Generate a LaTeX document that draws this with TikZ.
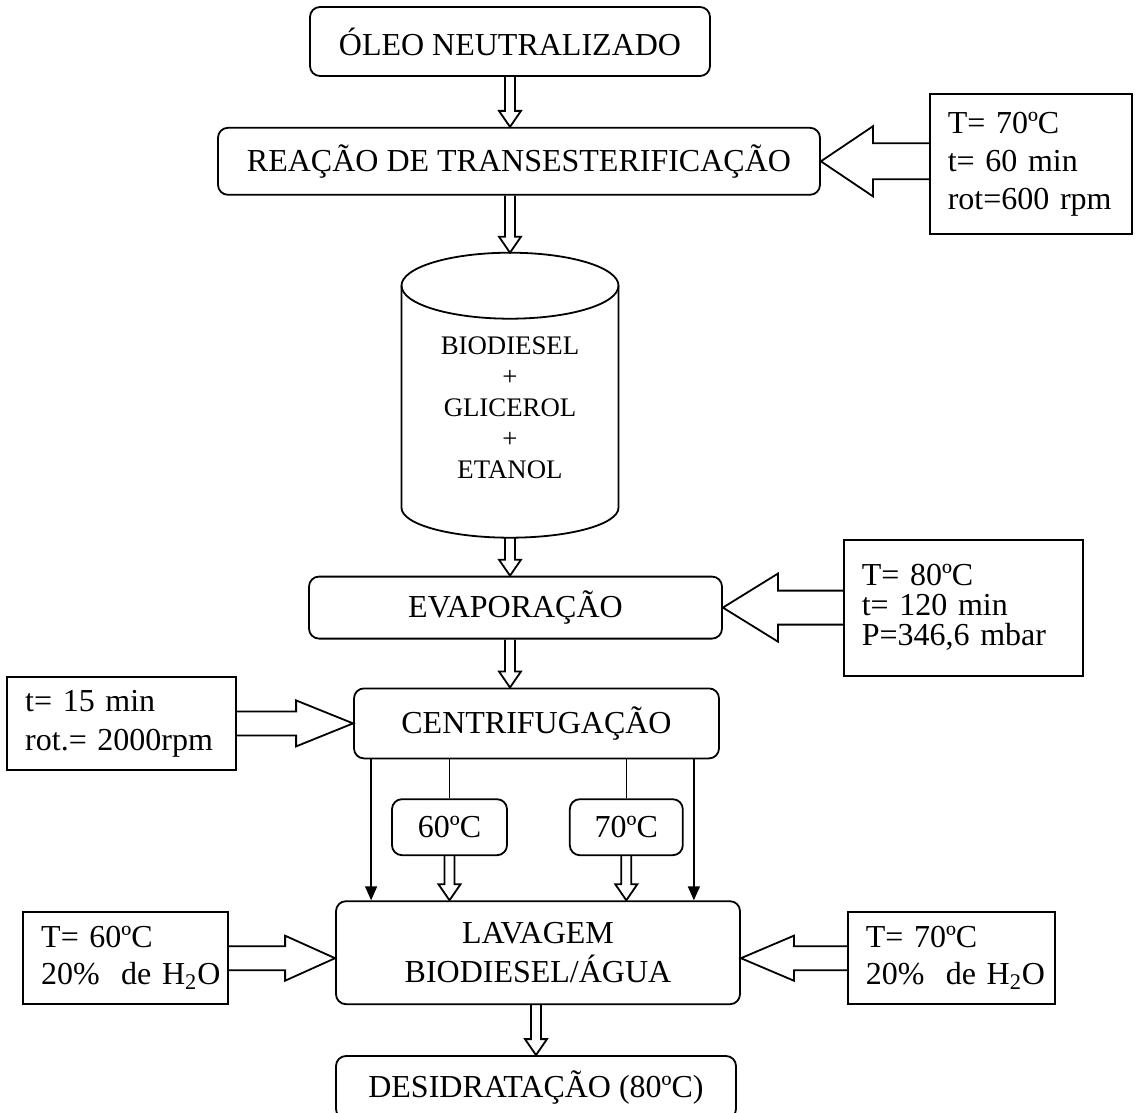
\documentclass[tikz,border=0pt]{standalone}
\usepackage{fontspec}
\setmainfont{Liberation Serif}
\usetikzlibrary{positioning,calc,arrows.meta}

\newcommand{\hollowdown}[2]{%
  \draw[hollow] let \p1=#1, \p2=#2 in
    (\x1-2.5pt,\y1) -- (\x1-2.5pt,\y2+8pt) -- (\x1-5.5pt,\y2+8pt) -- (\x1,\y2)
    -- (\x1+5.5pt,\y2+8pt) -- (\x1+2.5pt,\y2+8pt) -- (\x1+2.5pt,\y1);}
\newcommand{\hollowside}[5]{%
  \draw[hollow] let \p1=#1, \p2=#2 in
    (\x1,\y2+#3) -- (\x2+#5,\y2+#3) -- (\x2+#5,\y2+#4) -- (\x2,\y2)
    -- (\x2+#5,\y2-#4) -- (\x2+#5,\y2-#3) -- (\x1,\y2-#3);}

\begin{document}
\begin{tikzpicture}[x=0.5pt, y=-0.5pt, line width=0.9pt,
  proc/.style={draw, rounded corners=5pt, inner sep=0pt, align=center, font=\fontsize{16}{19.5}\selectfont},
  param/.style={draw, inner xsep=9pt, inner ysep=0pt, align=left},
  mix/.style={inner sep=0pt, align=center, font=\fontsize{13.4}{15.5}\selectfont},
  hollow/.style={line width=0.9pt},
  feed/.style={line width=0.8pt}]
\useasboundingbox (0,0) rectangle (1137,1113);

\node[proc, minimum width=200pt, minimum height=34.5pt] (oleo) at (510,41.5) {ÓLEO NEUTRALIZADO};
\node[proc, minimum width=301pt, minimum height=33.5pt, below=25pt of oleo, xshift=4.5pt] (reac) {REAÇÃO DE TRANSESTERIFICAÇÃO};
\node[mix] (cyl) at ([yshift=-106pt]oleo.south |- reac.south) {BIODIESEL\\+\\GLICEROL\\+\\ETANOL};
\coordinate (cyltop) at ([yshift=77.5pt]cyl.center);
\coordinate (cylbot) at ([yshift=-65pt]cyl.center);
\node[proc, minimum width=206.5pt, minimum height=31pt, below=19pt of cylbot, xshift=2.75pt] (evap) {EVAPORAÇÃO};
\node[proc, minimum width=182.5pt, minimum height=35pt, below=24pt of evap, xshift=10.5pt] (centr) {CENTRIFUGAÇÃO};
\node[proc, minimum width=57.5pt, minimum height=28pt, below=19.5pt of centr, xshift=-43.5pt] (c60) {60ºC};
\node[proc, minimum width=56.5pt, minimum height=28pt, right=30.5pt of c60] (c70) {70ºC};
\node[proc, minimum width=202pt, minimum height=51.5pt, below=70.5pt of centr, xshift=0.75pt] (lav) {LAVAGEM\\BIODIESEL/ÁGUA};
\node[proc, minimum width=200pt, minimum height=31.5pt, below=25pt of lav, xshift=-1pt] (desid) {DESIDRATAÇÃO (80ºC)};

\node[param, text width=83pt, minimum height=70pt, font=\fontsize{16}{19}\selectfont, right=54pt of reac, yshift=-1.25pt] (p1) {T=~70ºC\\t=~60~min\\rot=600~rpm};
\node[param, text width=101.5pt, minimum height=68pt, font=\fontsize{16}{15}\selectfont, right=60pt of evap] (p2) {T=~80ºC\\t=~120~min\\P=346,6~mbar};
\node[param, text width=96.5pt, minimum height=46.5pt, font=\fontsize{16}{19.5}\selectfont, left=58pt of centr] (p3) {t=~15~min\\rot.=~2000rpm};
\node[param, text width=84.5pt, minimum height=46pt, font=\fontsize{16}{18.5}\selectfont, left=53pt of lav, yshift=-2.75pt] (p4) {T=~60ºC\\20\%~~de~H\textsubscript{2}O};
\node[param, text width=85.5pt, minimum height=46pt, font=\fontsize{16}{18.5}\selectfont, right=53pt of lav, yshift=-2.75pt] (p5) {T=~70ºC\\20\%~~de~H\textsubscript{2}O};

\draw ([yshift=-16.5pt]cyltop) ellipse [x radius=54.25pt, y radius=16.5pt];
\draw ([xshift=-54.25pt, yshift=-16.5pt]cyltop) -- ([xshift=-54.25pt, yshift=15pt]cylbot)
  arc [start angle=180, end angle=360, x radius=54.25pt, y radius=15pt] -- ([xshift=54.25pt, yshift=-16.5pt]cyltop);

\hollowdown{(oleo.south)}{(oleo.south |- reac.north)}
\hollowdown{(reac.south -| cyltop)}{(cyltop)}
\hollowdown{(cylbot)}{(cylbot |- evap.north)}
\hollowdown{(evap.south -| cylbot)}{(cylbot |- centr.north)}
\hollowdown{(c60.south)}{(c60.south |- lav.north)}
\hollowdown{(c70.south)}{(c70.south |- lav.north)}
\hollowdown{(lav.south -| desid.north)}{(desid.north)}

\hollowside{(p1.west)}{(reac.east)}{9pt}{17.5pt}{26pt}
\hollowside{(p2.west)}{(evap.east)}{8.5pt}{17pt}{27.5pt}
\hollowside{(p3.east)}{(centr.west)}{6pt}{11.5pt}{-28.5pt}
\hollowside{(p4.east)}{(p4.east -| lav.west)}{6pt}{11.25pt}{-25pt}
\hollowside{(p5.west)}{(p5.west -| lav.east)}{6pt}{11.25pt}{26.5pt}

\draw[feed] (c60.north |- centr.south) -- (c60.north);
\draw[feed] (c70.north |- centr.south) -- (c70.north);
\draw[feed, -{Triangle[length=7pt,width=6pt]}] ([xshift=9pt]centr.south west) -- ([xshift=9pt]centr.south west |- lav.north);
\draw[feed, -{Triangle[length=7pt,width=6pt]}] ([xshift=-13pt]centr.south east) -- ([xshift=-13pt]centr.south east |- lav.north);
\end{tikzpicture}
\end{document}
